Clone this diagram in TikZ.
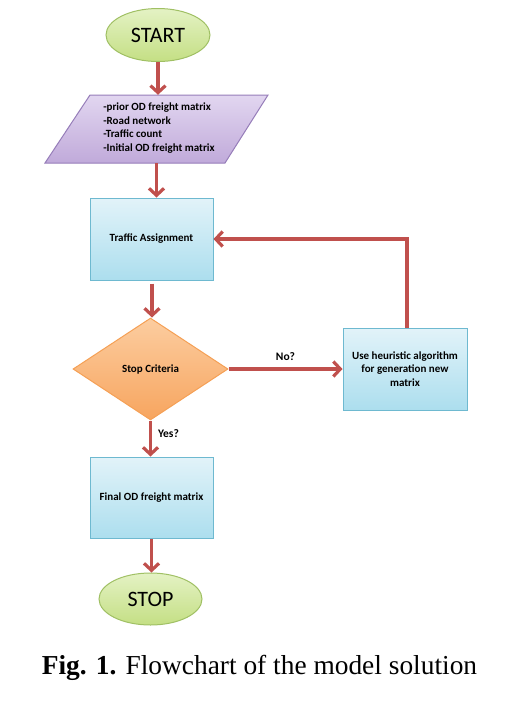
\documentclass[tikz,border=0pt]{standalone}
\usepackage{fontspec}
\setmainfont{Liberation Serif}
\newfontfamily\calfont{Carlito}
\usetikzlibrary{shapes.geometric,arrows.meta,calc}
\definecolor{arrowred}{RGB}{192,80,77}
\definecolor{gtop}{RGB}{228,242,196}
\definecolor{gbot}{RGB}{196,223,132}
\definecolor{gline}{RGB}{160,192,100}
\definecolor{ptop}{RGB}{226,214,240}
\definecolor{pbot}{RGB}{192,170,218}
\definecolor{pline}{RGB}{150,125,185}
\definecolor{btop}{RGB}{226,243,249}
\definecolor{bbot}{RGB}{172,222,238}
\definecolor{bline}{RGB}{110,185,208}
\definecolor{otop}{RGB}{252,205,160}
\definecolor{obot}{RGB}{247,165,95}
\definecolor{oline}{RGB}{245,160,85}
\tikzset{
  term/.style={ellipse, draw=gline, line width=1pt, top color=gtop, bottom color=gbot,
    minimum width=104pt, minimum height=53pt, inner sep=0pt, font=\calfont\fontsize{22}{25}\selectfont},
  procbox/.style={rectangle, draw=bline, line width=1pt, top color=btop, bottom color=bbot,
    minimum width=123pt, minimum height=82pt, inner sep=0pt, align=center,
    font=\calfont\bfseries\fontsize{11}{13.5}\selectfont},
  decbox/.style={diamond, draw=oline, line width=1pt, top color=otop, bottom color=obot,
    minimum width=155pt, minimum height=102pt, inner sep=0pt, aspect=1.5,
    font=\calfont\bfseries\fontsize{11}{13.5}\selectfont},
  conn/.style={draw=arrowred, line width=3.2pt, -{Straight Barb[length=7pt,width=15pt,line width=3.2pt]}},
  lbl/.style={font=\calfont\bfseries\fontsize{11.5}{13}\selectfont, inner sep=0pt}
}
\begin{document}
\begin{tikzpicture}[x=1pt,y=-1pt]
\useasboundingbox (0,0) rectangle (529,705);
% start
\node[term] (start) at (158,35) {START};
% input parallelogram
\node[minimum width=180pt, minimum height=68pt, inner sep=0pt] (input) at (156.5,129) {};
\path[draw=pline, line width=1pt, top color=ptop, bottom color=pbot]
  ($(input.center)+(-66.5,-34)$) -- ($(input.center)+(111.5,-34)$) --
  ($(input.center)+(68.5,34)$) -- ($(input.center)+(-111.5,34)$) -- cycle;
\node[align=left, inner sep=0pt, font=\calfont\bfseries\fontsize{11}{13.5}\selectfont] (inputtext) at (159,128)
  {-prior OD freight matrix\\-Road network\\-Traffic count\\-Initial OD freight matrix};
% traffic assignment
\node[procbox] (traffic) at (151.5,239) {Traffic Assignment};
% decision
\node[decbox] (dec) at (150.5,369) {Stop Criteria};
% heuristic
\node[procbox, minimum width=124pt] (heur) at (405,369) {Use heuristic algorithm\\for generation new\\matrix};
% final
\node[procbox, minimum height=81pt] (final) at (151.5,497.5) {Final OD freight matrix};
% stop
\node[term, minimum width=103pt, minimum height=52pt] (stop) at (150.5,599) {STOP};
% connectors
\draw[conn] (start.south) -- (start.south |- input.north);
\draw[conn] (input.south) -- (input.south |- traffic.north);
\draw[conn, shorten <=3pt] ([xshift=0.5pt]traffic.south) -- ([xshift=0.5pt]traffic.south |- dec.north);
\draw[conn] (dec.east) -- node[lbl, above=7pt] (nolbl) {No?} (heur.west);
\draw[conn] (dec.south) -- node[lbl, right=6pt, pos=0.35] (yeslbl) {Yes?} (dec.south |- final.north);
\draw[conn] (final.south) -- (final.south |- stop.north);
\draw[conn] ([xshift=2pt]heur.north) |- (traffic.east);
% caption
\node[inner sep=0pt, font=\fontsize{27.4}{30}\selectfont] (caption) at (259.5,668) {\textbf{Fig. 1.} Flowchart of the model solution};
\end{tikzpicture}
\end{document}
